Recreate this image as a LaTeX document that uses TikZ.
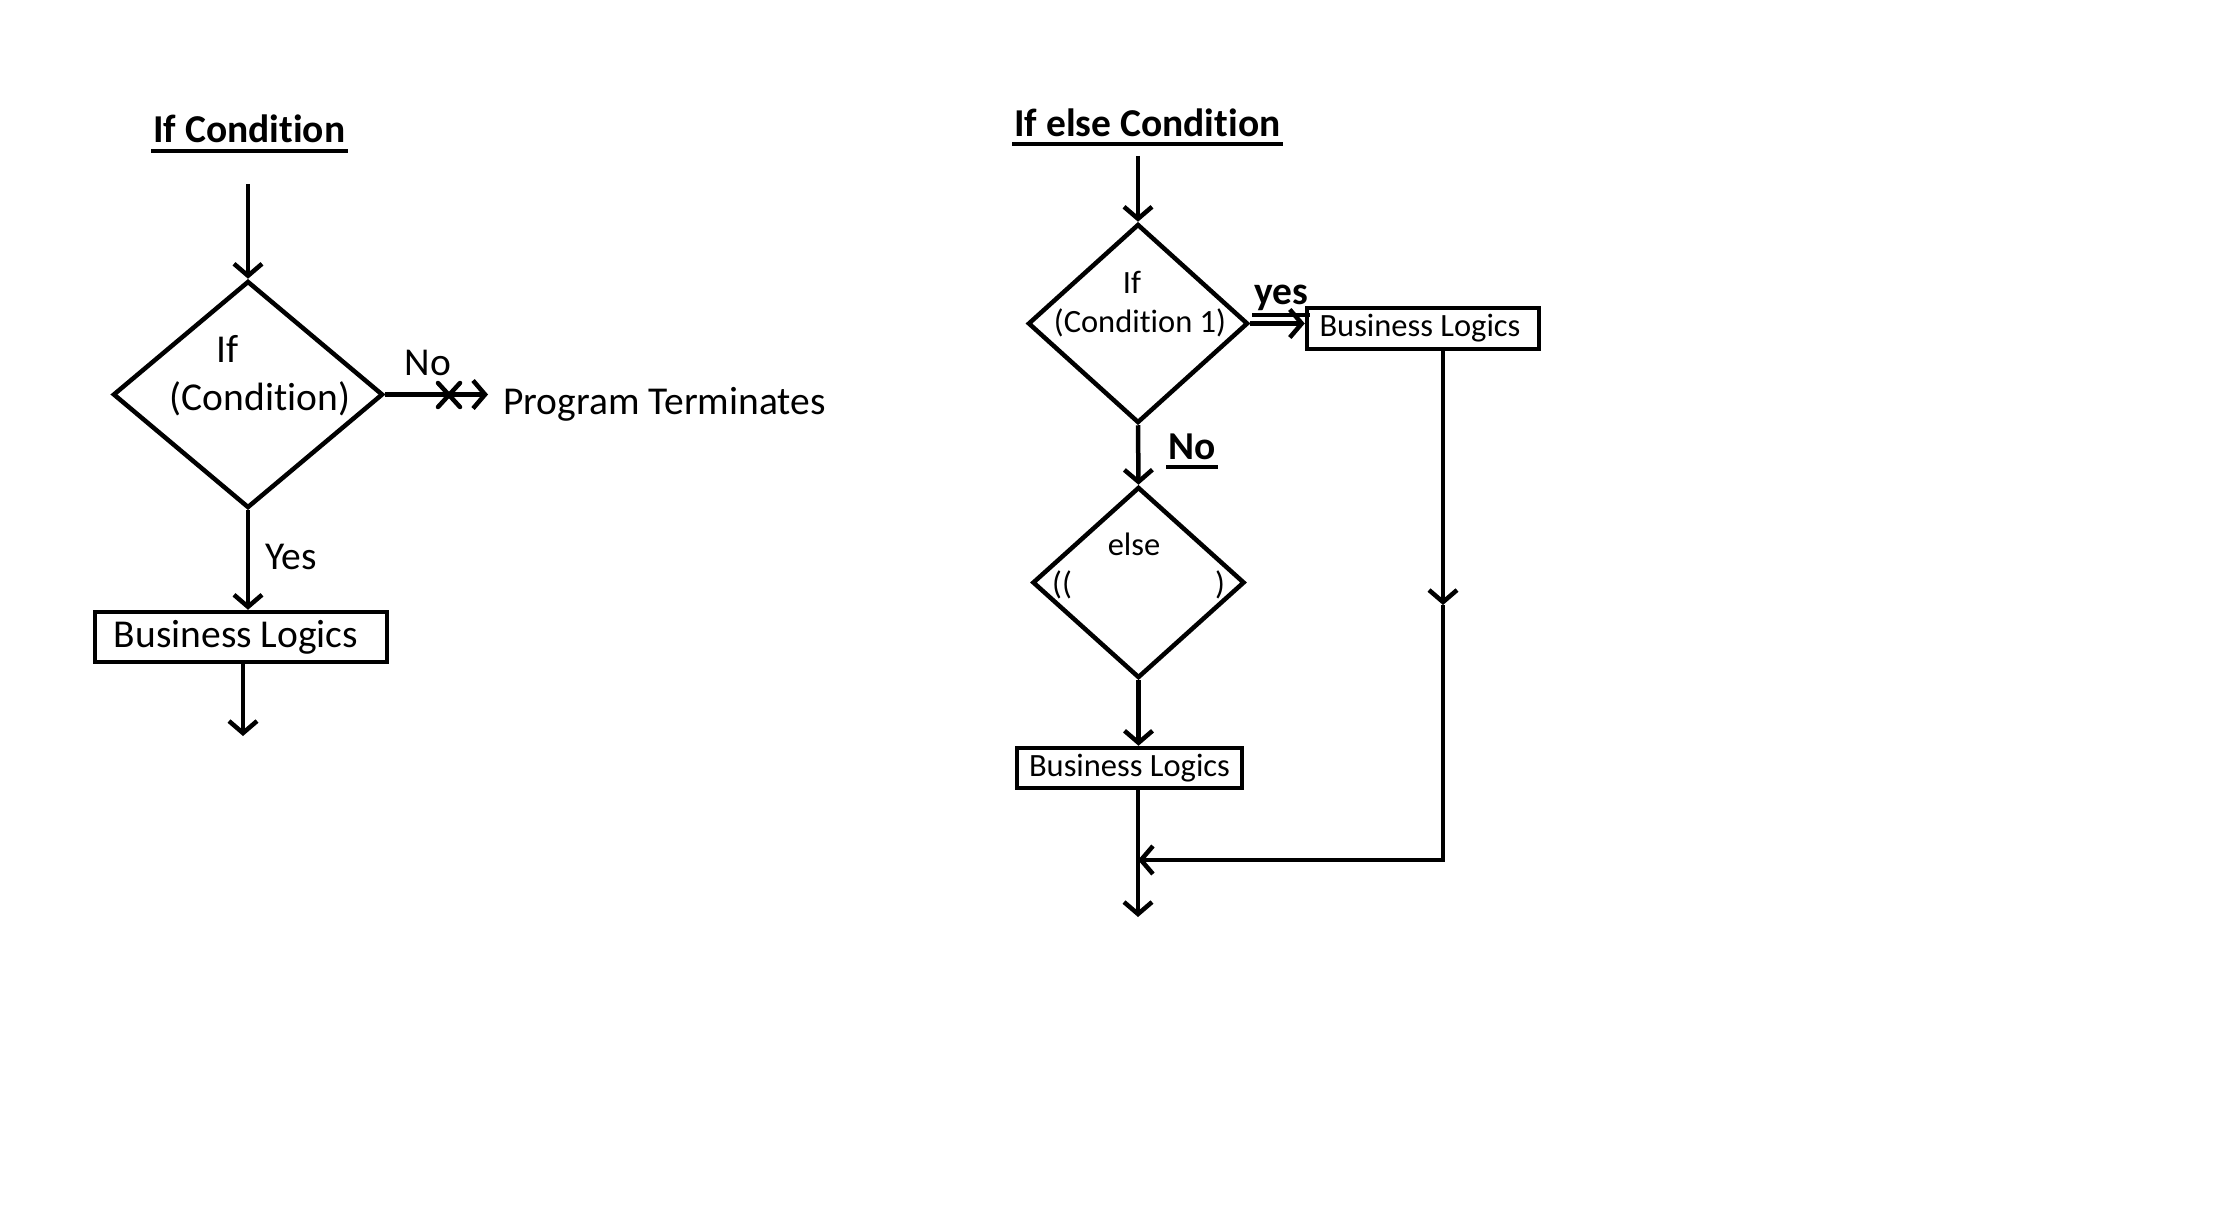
\documentclass[tikz,border=0pt]{standalone}
\usepackage{fontspec}
\setmainfont{Carlito}[Ligatures=NoCommon]
\usetikzlibrary{shapes.geometric,arrows.meta}
\begin{document}
\begin{tikzpicture}[x=1pt,y=-1pt,line width=4.5pt,
  big/.style={font=\fontsize{39.5}{47}\selectfont, inner sep=0pt},
  small/.style={font=\fontsize{32.5}{39}\selectfont, inner sep=0pt},
  dia/.style={draw, diamond, inner sep=0pt, line width=4.5pt},
  box/.style={draw, rectangle, line width=4.5pt},
  arr/.style={-{Straight Barb[length=12pt,width=28pt]}},
  uline/.style={line width=3.5pt}]
\fill[white] (0,0) rectangle (2224,1206);
\useasboundingbox (0,0) rectangle (2224,1206);

% ---------- If Condition ----------
\node[big, anchor=base west] (t1) at (151,143) {\textbf{If Condition}};
\draw[uline] ([yshift=-8pt]t1.base west) -- ([yshift=-8pt]t1.base east);

\node[dia, minimum width=270pt, minimum height=227pt] (dL) at (248,394.5) {};
\node[big] (ifL) at (228,349) {If};
\node[big] (condL) at (260,399) {(Condition)};
\node[big] (noL) at (428,363) {No};
\node[big, anchor=base west, inner xsep=13pt] (pt) at (488,414) {Program Terminates};
\node[big] (yesL) at (291,557) {Yes};
\node[box, big, minimum width=292pt, minimum height=50pt] (b1) at (241,637) {\hspace{-10pt}Business Logics};

\coordinate (s1) at (248,184);
\coordinate (e1) at (243,736);
\coordinate (xm) at (449,395);

\draw[arr] (s1) -- (dL.north);
\draw[arr] (dL.east) -- (dL.east -| pt.west);
\draw[line cap=round] ([xshift=-11pt,yshift=12pt]xm) -- ([xshift=11pt,yshift=-12pt]xm);
\draw[line cap=round] ([xshift=-11pt,yshift=-12pt]xm) -- ([xshift=11pt,yshift=12pt]xm);
\draw[arr] (dL.south) -- (dL.south |- b1.north);
\draw[arr] (e1 |- b1.south) -- (e1);

% ---------- If else Condition ----------
\node[big, anchor=base west] (t2) at (1012,137) {\textbf{If else Condition}};
\draw[uline] ([yshift=-7pt]t2.base west) -- ([yshift=-7pt]t2.base east);

\node[dia, minimum width=220pt, minimum height=199pt] (d1) at (1138,323.5) {};
\node[small] (if1) at (1132,282) {If};
\node[small] (cond1) at (1140,323) {(Condition 1)};
\node[big, anchor=base west] (yes) at (1252,305) {\textbf{yes}};
\draw[uline] ([yshift=-10pt]yes.base west) -- ([yshift=-10pt]yes.base east);
\node[box, small, minimum width=232pt, minimum height=41pt] (b2) at (1423,328.5) {\hspace{-6pt}Business Logics};

\node[big, anchor=base west] (no2) at (1166,459) {\textbf{No}};
\draw[uline] ([yshift=-8pt]no2.base west) -- ([yshift=-8pt]no2.base east);

\node[dia, minimum width=212pt, minimum height=191pt] (d2) at (1138.5,582.5) {};
\node[small] (else) at (1134,544) {else};
\node[small] (lp) at (1062,585) {((};
\node[small] (rp) at (1220,585) {)};
\node[box, small, minimum width=225pt, minimum height=40pt] (b3) at (1129.5,768) {Business Logics};

\coordinate (s2) at (1138,156);
\coordinate (m) at (1443,605);
\coordinate (c) at (1443,860);
\coordinate (j) at (1138,860);
\coordinate (e2) at (1138,917);

\draw[arr] (s2) -- (d1.north);
\draw[arr] (d1.east) -- (d1.east -| b2.west);
\draw[arr] (d1.south) -- (d2.north);
\draw[arr] (d2.south) -- (d2.south |- b3.north);
\draw[arr] (b2.south -| m) -- (m);
\draw[arr] (m) -- (c) -- (j);
\draw[arr] (b3.south -| j) -- (e2);
\end{tikzpicture}
\end{document}
